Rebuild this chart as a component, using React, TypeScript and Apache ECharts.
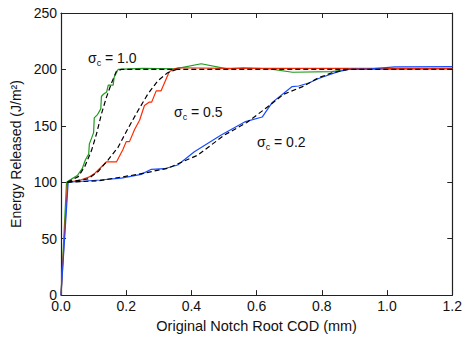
import React, { useEffect, useRef } from "react";
import * as echarts from "echarts";

// Simulated energy release curves, [COD (mm), energy (J/m^2)]
const sim10: number[][] = [
  [0, 0], [0.017, 100], [0.022, 101], [0.05, 106], [0.065, 112], [0.075, 120], [0.085, 125],
  [0.087, 134], [0.095, 140], [0.1, 144], [0.102, 157], [0.112, 160], [0.122, 165],
  [0.124, 176], [0.13, 178], [0.14, 180], [0.145, 186], [0.16, 186], [0.163, 193],
  [0.175, 200], [0.25, 201], [0.35, 200.5], [0.43, 205], [0.51, 200.5], [0.56, 201.5],
  [0.64, 200.5], [0.71, 197.5], [0.83, 198], [0.88, 200], [1.2, 200.5],
];
const sim05: number[][] = [
  [0, 0], [0.02, 100], [0.06, 102], [0.085, 104.5], [0.104, 108], [0.139, 118], [0.17, 118],
  [0.19, 129], [0.2, 136], [0.21, 136], [0.226, 147], [0.241, 155], [0.256, 168],
  [0.27, 171], [0.278, 171], [0.292, 181], [0.307, 181], [0.332, 198], [0.348, 200.5],
  [0.36, 201.5], [0.5, 201], [1.2, 201],
];
const sim02: number[][] = [
  [0, 0], [0.022, 100], [0.12, 102], [0.185, 103.7], [0.246, 107], [0.277, 111.5],
  [0.317, 112], [0.358, 115.3], [0.409, 127], [0.49, 141.6], [0.566, 153.8], [0.617, 157.8],
  [0.648, 170.8], [0.709, 184.8], [0.729, 185.3], [0.76, 188], [0.79, 192], [0.85, 198],
  [0.882, 200], [0.95, 200.5], [1.024, 202.3], [1.2, 202.5],
];
// Fitted (dashed) curves
const fit10: number[][] = [
  [0.02, 100], [0.053, 105], [0.073, 114], [0.094, 128.5], [0.109, 143], [0.124, 160.5],
  [0.139, 175], [0.155, 188], [0.17, 198.5], [0.185, 200], [1.2, 200],
];
const fit05: number[][] = [
  [0.02, 100], [0.083, 103], [0.114, 109.5], [0.144, 119.7], [0.175, 131], [0.205, 147.4],
  [0.236, 163.4], [0.266, 178], [0.297, 190], [0.327, 197], [0.355, 200],
];
const fit02: number[][] = [
  [0.02, 100], [0.114, 101.3], [0.236, 107], [0.327, 112.4], [0.419, 124], [0.5, 141.6],
  [0.57, 153], [0.632, 166.4], [0.683, 178], [0.739, 184.5], [0.79, 192.6], [0.831, 197],
  [0.882, 200],
];

const xTicks = { min: 0, max: 1.2, interval: 0.2 };
const yTicks = { min: 0, max: 250, interval: 50 };
const labels = [
  { value: "1.0", x: 88, y: 49 },
  { value: "0.5", x: 174, y: 103 },
  { value: "0.2", x: 257, y: 133 },
];

const FONT = "'Liberation Sans', Arial, Helvetica, sans-serif";

export default function App() {
  const ref = useRef<HTMLDivElement>(null);
  useEffect(() => {
    if (!ref.current) return;
    const chart = echarts.init(ref.current, null, { renderer: "svg" });
    const axisLine = { show: true, onZero: false, lineStyle: { color: "#222", width: 1.2 } };
    const axisTick = { show: true, inside: true, length: 5, lineStyle: { color: "#222", width: 1 } };
    const simLine = (data: number[][], color: string) => ({
      type: "line", data, showSymbol: false, symbol: "none", z: 2,
      lineStyle: { color, width: 1.2 },
    });
    const fitLine = (data: number[][]) => ({
      type: "line", data, showSymbol: false, symbol: "none", z: 3,
      lineStyle: { color: "#000", width: 1.2, type: [5, 3] },
    });
    chart.setOption({
      animation: false,
      textStyle: { fontFamily: FONT },
      grid: { left: 61, right: 11, top: 13, bottom: 40 },
      xAxis: [
        {
          type: "value", ...xTicks, axisLine, axisTick, splitLine: { show: false },
          axisLabel: { formatter: (v: number) => v.toFixed(1), color: "#111", fontSize: 14, margin: 4, fontFamily: FONT },
          name: "Original Notch Root COD (mm)", nameLocation: "middle", nameGap: 19,
          nameTextStyle: { color: "#111", fontSize: 14.5, fontFamily: FONT },
        },
        {
          type: "value", position: "top", ...xTicks, axisLine, axisTick,
          splitLine: { show: false }, axisLabel: { show: false },
        },
      ],
      yAxis: [
        {
          type: "value", ...yTicks, axisLine, axisTick, splitLine: { show: false },
          axisLabel: { color: "#111", fontSize: 14, margin: 4, fontFamily: FONT },
          name: "Energy Released (J/m²)", nameLocation: "middle", nameGap: 31,
          nameTextStyle: { color: "#111", fontSize: 14, fontFamily: FONT },
        },
        {
          type: "value", position: "right", ...yTicks, axisLine, axisTick,
          splitLine: { show: false }, axisLabel: { show: false },
        },
      ],
      series: [
        simLine(sim10, "#1e9a1e"),
        simLine(sim05, "#ff2a00"),
        simLine(sim02, "#1a4cff"),
        fitLine(fit10),
        fitLine(fit05),
        fitLine(fit02),
      ],
      graphic: labels.map((l) => ({
        type: "text", x: l.x, y: l.y, z: 10,
        style: {
          text: `{s|σ}{c|c}{s| = ${l.value}}`,
          rich: {
            s: { fontSize: 14, lineHeight: 18, verticalAlign: "middle", fill: "#111", fontFamily: FONT },
            c: { fontSize: 9, lineHeight: 18, verticalAlign: "bottom", fill: "#111", fontFamily: FONT },
          },
        },
      })),
    });
    return () => chart.dispose();
  }, []);
  return <div ref={ref} style={{ width: 465, height: 338, position: "absolute", left: 0, top: 0 }} />;
}
